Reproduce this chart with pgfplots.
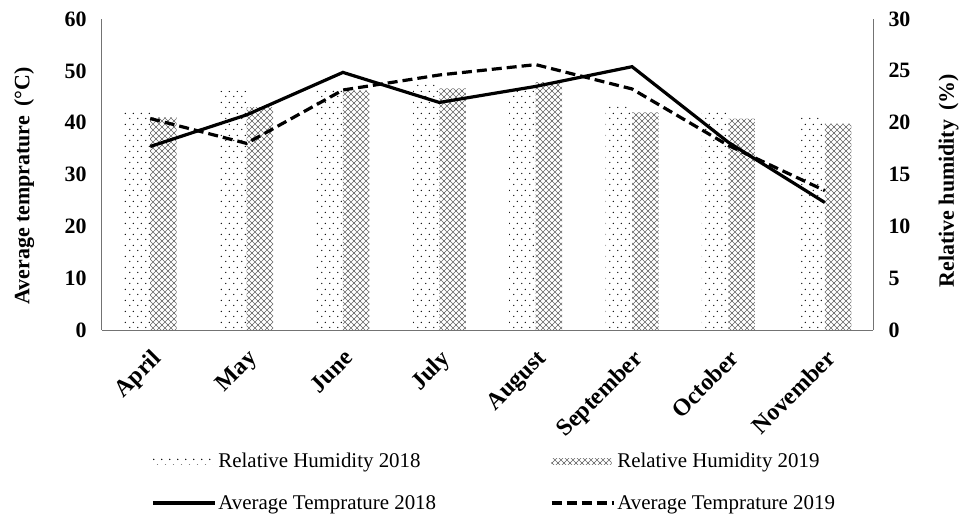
\documentclass[border=0pt]{standalone}
\usepackage{fontspec}
\setmainfont{Liberation Serif}
\usepackage{pgfplots}
\usepackage{pgfplotstable}
\pgfplotsset{compat=1.18}
\usetikzlibrary{patterns.meta}

\tikzdeclarepattern{
  name=rhdots,
  type=uncolored,
  tile size={(8bp,11bp)},
  bounding box={(0bp,0bp) and (8bp,11bp)},
  code={
    \fill (2bp,2.75bp) circle[radius=0.8bp];
    \fill (6bp,8.25bp) circle[radius=0.8bp];
  }
}
\tikzdeclarepattern{
  name=rhcross,
  type=uncolored,
  tile size={(6bp,6bp)},
  bounding box={(-0.5bp,-0.5bp) and (6.5bp,6.5bp)},
  code={
    \draw[line width=0.65bp] (-0.5bp,-0.5bp) -- (6.5bp,6.5bp) (-0.5bp,6.5bp) -- (6.5bp,-0.5bp);
  }
}

\pgfplotstableread{
m rh18 rh19 at18 at19
0 21.2 20.5 35.4 40.8
1 23.1 21.5 41.5 36.0
2 23.4 23.1 49.7 46.3
3 23.8 23.3 43.9 49.2
4 23.4 23.9 47.0 51.2
5 21.6 21.0 50.8 46.5
6 21.3 20.4 36.2 35.6
7 20.7 19.9 24.6 26.9
}\data

\newcommand\tickfont{\fontsize{22}{26}\selectfont\bfseries}
\newcommand\monthfont{\fontsize{24}{28}\selectfont\bfseries}
\pgfplotsset{
  lineleg/.style={legend image code/.code={\draw[##1] (0bp,0bp) -- (62bp,0bp);}},
}

\begin{document}
\begin{tikzpicture}
\path[use as bounding box] (-102bp,-187bp) rectangle (858bp,330bp);
\begin{axis}[
  at={(0,0)}, anchor=south west,
  width=771bp, height=311bp, scale only axis,
  xmin=-0.5, xmax=7.5, ymin=0, ymax=30,
  hide x axis,
  axis y line*=right,
  axis line style={black!55, line width=1bp, -},
  ytick={0,5,...,30},
  major tick length=0pt,
  yticklabel style={font=\tickfont, xshift=12bp},
  /pgf/number format/assume math mode=true,
  ylabel={Relative humidity \,(\%)},
  ylabel style={font=\tickfont, at={(axis description cs:1.098,0.48)}, anchor=center},
  ybar=0pt, bar width=26.5bp,
]
\addplot[draw=none, pattern=rhdots, pattern color=black] table[x=m,y=rh18]{\data};
\addplot[draw=none, pattern=rhcross, pattern color=black!60] table[x=m,y=rh19]{\data};
\end{axis}
\begin{axis}[
  at={(0,0)}, anchor=south west,
  width=771bp, height=311bp, scale only axis,
  xmin=-0.5, xmax=7.5, ymin=0, ymax=60,
  axis x line*=bottom, axis y line*=left,
  axis line style={black!55, line width=1bp, -},
  xtick={0,...,7},
  xticklabels={April,May,June,July,August,September,October,November},
  ytick={0,10,...,60},
  major tick length=0pt,
  yticklabel style={font=\tickfont, xshift=-12bp},
  xticklabel style={font=\monthfont, rotate=45, anchor=north east, inner sep=0pt},
  xticklabel shift=18bp,
  /pgf/number format/assume math mode=true,
  ylabel={Average temprature \,(°C)},
  ylabel style={font=\tickfont, at={(axis description cs:-0.101,0.463)}, anchor=center},
  legend columns=2,
  legend cell align=left,
  legend style={at={(axis description cs:0.0597,-0.383)}, anchor=north west,
    draw=none, fill=none, font=\fontsize{21}{25}\selectfont, row sep=22bp,
    /tikz/every even column/.append style={column sep=112bp}},
]
\addlegendimage{legend image code/.code={\path[draw=none, pattern=rhdots, pattern color=black] (0bp,-3bp) rectangle (60bp,3bp);}}
\addlegendentry{Relative Humidity 2018}
\addlegendimage{legend image code/.code={\path[draw=none, pattern=rhcross, pattern color=black!60] (0bp,-3bp) rectangle (60bp,3bp);}}
\addlegendentry{Relative Humidity 2019}
\addplot[black, line width=3.2bp, lineleg] table[x=m,y=at18]{\data};
\addlegendentry{Average Temprature 2018}
\addplot[black, line width=3.2bp, dash pattern=on 10bp off 5bp, lineleg] table[x=m,y=at19]{\data};
\addlegendentry{Average Temprature 2019}
\end{axis}
\end{tikzpicture}
\end{document}
